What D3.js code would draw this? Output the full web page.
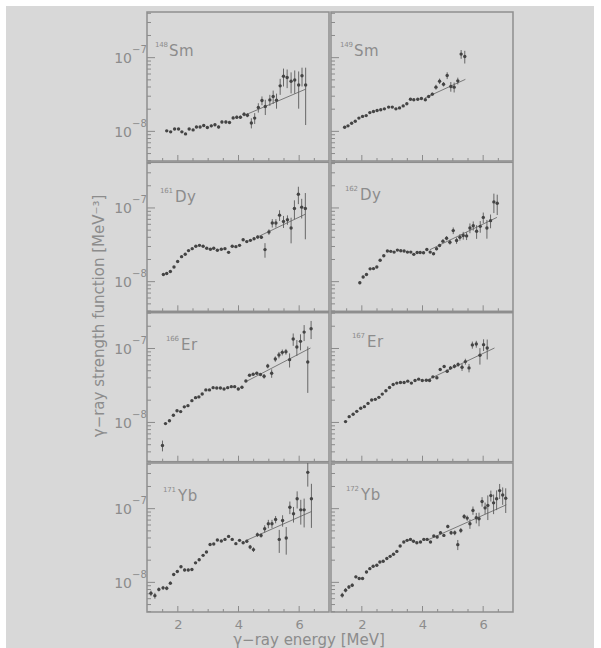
<!DOCTYPE html>
<html>
<head>
<meta charset="utf-8">
<script src="https://cdn.jsdelivr.net/npm/d3@7"></script>
<style>
  body { margin: 0; background: #fff; }
  text { font-family: "DejaVu Sans", sans-serif; fill: #8c8c8c; }
</style>
</head>
<body>
<div id="chart"></div>
<script>
// gamma-ray strength functions, values in units of 1e-8 MeV^-3
const UNIT = 1e-8

const sm148E = [1.65, 1.78, 1.91, 2.04, 2.15, 2.27, 2.39, 2.52, 2.63, 2.75, 2.87, 2.99, 3.12, 3.24, 3.36, 3.47, 3.60, 3.72, 3.84, 3.96, 4.08, 4.20, 4.31, 4.44, 4.55, 4.67, 4.79, 4.90, 5.05, 5.16, 5.27, 5.39, 5.50, 5.62, 5.75, 5.87, 6.00, 6.11, 6.23]
const sm148S = [1.00, 0.97, 1.06, 1.06, 0.97, 0.91, 1.06, 1.03, 1.13, 1.13, 1.18, 1.11, 1.17, 1.21, 1.13, 1.32, 1.32, 1.30, 1.50, 1.53, 1.53, 1.68, 1.63, 1.28, 1.49, 2.07, 2.58, 2.14, 2.63, 2.92, 2.60, 4.08, 5.50, 5.30, 4.72, 4.90, 4.20, 5.60, 4.20]
const sm148Err = [0.03, 0.03, 0.03, 0.03, 0.03, 0.03, 0.03, 0.03, 0.04, 0.04, 0.04, 0.04, 0.05, 0.05, 0.05, 0.06, 0.06, 0.06, 0.07, 0.08, 0.08, 0.1, 0.1, 0.2, 0.25, 0.3, 0.35, 0.5, 0.45, 0.6, 0.6, 1.0, 1.5, 1.5, 1.5, 1.7, 2.2, 1.6, 3.0]
const sm148Fit = [[4.25, 1.65], [6.23, 3.68]]

const sm149E = [1.45, 1.56, 1.68, 1.80, 1.92, 2.04, 2.16, 2.28, 2.40, 2.52, 2.64, 2.76, 2.90, 3.02, 3.14, 3.26, 3.38, 3.50, 3.62, 3.73, 3.86, 3.98, 4.11, 4.22, 4.34, 4.46, 4.58, 4.71, 4.83, 4.95, 5.06, 5.18, 5.29, 5.41]
const sm149S = [1.12, 1.17, 1.27, 1.35, 1.49, 1.57, 1.61, 1.77, 1.83, 1.89, 1.93, 1.99, 2.10, 2.10, 1.99, 2.05, 2.18, 2.33, 2.69, 2.64, 2.69, 2.75, 2.64, 2.92, 3.15, 3.92, 4.72, 4.30, 5.64, 4.00, 3.92, 4.77, 11.0, 10.2]
const sm149Err = [0.03, 0.03, 0.03, 0.03, 0.04, 0.04, 0.04, 0.04, 0.05, 0.05, 0.05, 0.05, 0.06, 0.06, 0.06, 0.06, 0.07, 0.07, 0.08, 0.08, 0.09, 0.1, 0.1, 0.12, 0.15, 0.3, 0.4, 0.3, 0.6, 0.6, 0.6, 0.5, 1.5, 2.0]
const sm149Fit = [[4.1, 2.8], [5.43, 5.0]]

const dy161E = [1.54, 1.65, 1.77, 1.89, 2.01, 2.14, 2.26, 2.37, 2.49, 2.61, 2.73, 2.85, 2.97, 3.09, 3.20, 3.32, 3.45, 3.57, 3.69, 3.81, 3.93, 4.05, 4.17, 4.29, 4.41, 4.53, 4.65, 4.77, 4.89, 5.02, 5.13, 5.25, 5.37, 5.50, 5.63, 5.75, 5.86, 5.99, 6.10, 6.22]
const dy161S = [1.23, 1.27, 1.35, 1.56, 1.85, 2.15, 2.32, 2.60, 2.76, 2.97, 3.06, 2.97, 2.79, 2.71, 2.79, 2.63, 2.71, 2.76, 2.46, 2.97, 2.94, 3.06, 3.65, 3.44, 3.58, 3.77, 3.97, 3.94, 2.68, 4.65, 6.14, 6.14, 7.87, 6.47, 6.81, 5.26, 9.7, 15.1, 10.1, 9.7]
const dy161Err = [0.03, 0.03, 0.03, 0.04, 0.04, 0.05, 0.05, 0.05, 0.05, 0.06, 0.06, 0.06, 0.06, 0.06, 0.06, 0.06, 0.06, 0.07, 0.07, 0.08, 0.08, 0.1, 0.12, 0.12, 0.15, 0.15, 0.2, 0.2, 0.6, 0.4, 0.8, 0.8, 1.3, 1.2, 1.0, 2.0, 2.8, 4.0, 3.0, 6.0]
const dy161Fit = [[4.6, 3.9], [6.22, 8.1]]

const dy162E = [1.95, 2.06, 2.17, 2.29, 2.40, 2.51, 2.62, 2.74, 2.86, 2.97, 3.08, 3.19, 3.30, 3.41, 3.52, 3.63, 3.73, 3.84, 3.94, 4.05, 4.16, 4.27, 4.38, 4.48, 4.58, 4.69, 4.81, 4.92, 5.03, 5.14, 5.25, 5.36, 5.47, 5.58, 5.69, 5.80, 5.92, 6.02, 6.14, 6.26, 6.37, 6.48]
const dy162S = [0.95, 1.14, 1.23, 1.47, 1.48, 1.56, 1.92, 2.21, 2.56, 2.54, 2.48, 2.64, 2.59, 2.56, 2.48, 2.48, 2.31, 2.45, 2.45, 2.43, 2.69, 2.48, 2.36, 2.75, 3.05, 3.49, 3.83, 3.38, 4.85, 3.56, 3.95, 4.16, 4.11, 5.27, 5.66, 4.75, 5.54, 7.33, 5.27, 6.62, 11.9, 11.4]
const dy162Err = [0.04, 0.04, 0.04, 0.05, 0.05, 0.05, 0.05, 0.05, 0.06, 0.06, 0.06, 0.06, 0.06, 0.06, 0.06, 0.06, 0.06, 0.07, 0.07, 0.07, 0.08, 0.08, 0.1, 0.12, 0.15, 0.2, 0.25, 0.25, 0.5, 0.35, 0.4, 0.5, 0.5, 0.8, 0.8, 1.0, 1.0, 1.2, 1.5, 1.4, 3.5, 3.5]
const dy162Fit = [[4.26, 2.67], [6.47, 7.33]]

const er166E = [1.51, 1.61, 1.74, 1.87, 1.99, 2.11, 2.23, 2.35, 2.48, 2.60, 2.71, 2.82, 2.94, 3.06, 3.18, 3.30, 3.42, 3.54, 3.66, 3.78, 3.89, 4.01, 4.13, 4.26, 4.38, 4.50, 4.62, 4.74, 4.86, 4.98, 5.11, 5.23, 5.35, 5.46, 5.58, 5.70, 5.82, 5.94, 6.06, 6.18, 6.30, 6.41]
const er166S = [0.48, 0.95, 1.04, 1.23, 1.42, 1.38, 1.60, 1.66, 1.94, 2.13, 2.18, 2.39, 2.71, 2.71, 2.91, 2.88, 2.88, 2.79, 2.91, 3.00, 3.00, 2.79, 2.94, 3.58, 4.27, 4.41, 4.55, 4.37, 4.14, 5.71, 4.55, 7.10, 8.04, 8.73, 8.91, 6.95, 13.2, 10.3, 12.3, 16.4, 6.47, 18.2]
const er166Err = [0.08, 0.03, 0.03, 0.04, 0.04, 0.04, 0.05, 0.05, 0.05, 0.06, 0.06, 0.06, 0.06, 0.06, 0.07, 0.07, 0.07, 0.07, 0.08, 0.08, 0.08, 0.1, 0.1, 0.12, 0.15, 0.15, 0.2, 0.2, 0.3, 0.4, 0.6, 0.6, 0.8, 0.8, 0.8, 1.5, 2.5, 2.5, 3.0, 4.0, 4.0, 5.0]
const er166Fit = [[4.28, 3.54], [6.39, 10.0]]

const er167E = [1.48, 1.60, 1.73, 1.85, 1.98, 2.10, 2.22, 2.34, 2.46, 2.58, 2.69, 2.81, 2.93, 3.05, 3.17, 3.29, 3.41, 3.53, 3.65, 3.77, 3.89, 4.01, 4.14, 4.25, 4.36, 4.49, 4.60, 4.73, 4.83, 4.94, 5.07, 5.19, 5.32, 5.43, 5.55, 5.66, 5.79, 5.91, 6.03, 6.15]
const er167S = [1.01, 1.18, 1.27, 1.39, 1.53, 1.61, 1.78, 1.98, 2.02, 2.15, 2.38, 2.64, 2.92, 3.21, 3.35, 3.42, 3.42, 3.56, 3.35, 3.64, 3.79, 3.64, 3.67, 3.64, 4.07, 3.95, 5.12, 5.61, 4.85, 5.38, 5.66, 5.97, 5.49, 6.55, 5.38, 11.0, 11.3, 7.96, 11.1, 10.0]
const er167Err = [0.03, 0.03, 0.03, 0.04, 0.04, 0.04, 0.05, 0.05, 0.05, 0.05, 0.06, 0.06, 0.06, 0.07, 0.07, 0.07, 0.07, 0.08, 0.08, 0.08, 0.09, 0.09, 0.1, 0.1, 0.12, 0.15, 0.2, 0.25, 0.25, 0.3, 0.35, 0.4, 0.6, 0.6, 0.7, 1.2, 1.2, 2.0, 2.0, 3.0]
const er167Fit = [[4.16, 3.67], [6.39, 10.0]]

const yb171E = [1.13, 1.26, 1.39, 1.53, 1.65, 1.77, 1.88, 2.00, 2.12, 2.24, 2.36, 2.48, 2.60, 2.72, 2.85, 2.96, 3.08, 3.20, 3.32, 3.45, 3.57, 3.69, 3.81, 3.93, 4.05, 4.17, 4.29, 4.40, 4.51, 4.64, 4.76, 4.88, 5.00, 5.12, 5.24, 5.36, 5.47, 5.59, 5.71, 5.83, 5.95, 6.07, 6.18, 6.30, 6.42]
const yb171S = [0.70, 0.65, 0.79, 0.83, 0.82, 0.96, 1.26, 1.38, 1.60, 1.45, 1.45, 1.47, 1.81, 2.00, 2.29, 2.54, 3.22, 3.26, 3.70, 3.58, 3.77, 4.14, 3.77, 3.30, 3.66, 3.40, 3.55, 2.97, 2.74, 4.37, 4.27, 5.26, 6.14, 6.14, 7.03, 3.77, 6.81, 3.94, 10.3, 8.38, 13.4, 9.48, 9.48, 30.6, 13.4]
const yb171Err = [0.06, 0.06, 0.05, 0.05, 0.05, 0.05, 0.05, 0.05, 0.06, 0.06, 0.06, 0.06, 0.06, 0.07, 0.07, 0.07, 0.08, 0.08, 0.08, 0.08, 0.09, 0.1, 0.1, 0.1, 0.1, 0.12, 0.15, 0.2, 0.2, 0.3, 0.3, 0.6, 0.8, 0.8, 0.8, 1.3, 1.2, 1.6, 2.0, 2.0, 3.5, 3.5, 4.0, 11, 8]
const yb171Fit = [[4.28, 3.66], [6.42, 9.0]]

const yb172E = [1.37, 1.48, 1.59, 1.70, 1.82, 1.93, 2.04, 2.17, 2.28, 2.39, 2.51, 2.61, 2.72, 2.84, 2.95, 3.06, 3.17, 3.28, 3.40, 3.51, 3.62, 3.72, 3.83, 3.95, 4.06, 4.17, 4.28, 4.39, 4.50, 4.61, 4.72, 4.85, 4.96, 5.08, 5.18, 5.28, 5.39, 5.49, 5.58, 5.68, 5.79, 5.88, 5.98, 6.08, 6.17, 6.27, 6.36, 6.46, 6.56, 6.66, 6.76]
const yb172S = [0.66, 0.77, 0.85, 0.90, 1.17, 1.11, 1.11, 1.36, 1.51, 1.63, 1.68, 1.86, 1.90, 2.07, 2.22, 2.37, 2.59, 3.06, 3.47, 3.66, 3.77, 3.55, 3.40, 3.47, 3.77, 3.77, 3.47, 4.19, 4.06, 4.64, 4.27, 5.65, 4.64, 4.64, 3.20, 4.99, 7.71, 7.33, 6.14, 9.33, 7.41, 7.18, 12.3, 10.1, 10.9, 14.8, 11.8, 13.4, 17.3, 15.1, 13.6]
const yb172Err = [0.05, 0.05, 0.05, 0.05, 0.05, 0.05, 0.05, 0.05, 0.06, 0.06, 0.06, 0.06, 0.06, 0.07, 0.07, 0.07, 0.07, 0.08, 0.08, 0.08, 0.08, 0.08, 0.08, 0.09, 0.09, 0.1, 0.1, 0.12, 0.15, 0.2, 0.2, 0.3, 0.3, 0.35, 0.5, 0.4, 0.6, 0.6, 0.9, 1.2, 1.2, 1.5, 1.8, 1.8, 4.0, 2.5, 3.5, 4.0, 4.0, 4.0, 5.0]
const yb172Fit = [[4.16, 3.66], [6.78, 11.1]]

const massNumbers = ['148', '149', '161', '162', '166', '167', '171', '172']
const elements = ['Sm', 'Sm', 'Dy', 'Dy', 'Er', 'Er', 'Yb', 'Yb']
const xTickLabels = [2, 4, 6]
const yDecades = [-8, -7]

// layout
const dimensions = {
  width: 601,
  height: 648,
  colX: [147, 331],
  rowY: [12, 162.3, 312.7, 463],
  panelW: 182,
  panelH: 149
}
// the Er row is drawn on a slightly lower range than the others
const yRanges = [[3.9e-9, 4.1e-7], [3.9e-9, 4.1e-7], [2.9e-9, 3.0e-7], [3.9e-9, 4.1e-7]]
// label offsets from the panel corner (mass number x, symbol x, baseline y)
const labelPos = [[8, 22, 44], [9, 23, 44], [13, 28, 40], [14, 29, 38], [19, 34, 37], [21, 36, 34], [16, 31, 38], [15, 30, 37]]

const series = [
  [sm148E, sm148S, sm148Err, sm148Fit],
  [sm149E, sm149S, sm149Err, sm149Fit],
  [dy161E, dy161S, dy161Err, dy161Fit],
  [dy162E, dy162S, dy162Err, dy162Fit],
  [er166E, er166S, er166Err, er166Fit],
  [er167E, er167S, er167Err, er167Fit],
  [yb171E, yb171S, yb171Err, yb171Fit],
  [yb172E, yb172S, yb172Err, yb172Fit]
]

const svg = d3.select('#chart').append('svg')
  .attr('width', dimensions.width)
  .attr('height', dimensions.height)

// scanned paper
svg.append('rect').attr('width', dimensions.width).attr('height', dimensions.height).attr('fill', '#fff')
svg.append('rect')
  .attr('x', 6).attr('y', 6)
  .attr('width', 588).attr('height', dimensions.height - 6)
  .attr('fill', '#d8d8d8')

const defs = svg.append('defs')

series.forEach(([E, S, Err, fit], i) => {
  const row = Math.floor(i / 2)
  const col = i % 2
  const x0 = dimensions.colX[col]
  const y0 = dimensions.rowY[row]

  const x = d3.scaleLinear().domain([1, 7]).range([x0, x0 + dimensions.panelW])
  const y = d3.scaleLog().domain(yRanges[row]).range([y0 + dimensions.panelH, y0])

  const g = svg.append('g').attr('class', 'panel')

  defs.append('clipPath').attr('id', 'clip' + i)
    .append('rect')
    .attr('x', x0).attr('y', y0)
    .attr('width', dimensions.panelW).attr('height', dimensions.panelH)

  // ticks on the left edge, pointing inward
  const yMinor = y.ticks().filter(v => Math.abs(Math.log10(v) - Math.round(Math.log10(v))) > 1e-6)
  const yMajor = yDecades.map(p => Math.pow(10, p))
  g.append('g')
    .attr('transform', `translate(${x0},0)`)
    .call(d3.axisRight(y).tickValues(yMinor).tickSize(4).tickFormat(''))
    .call(a => a.select('.domain').remove())
  g.append('g')
    .attr('transform', `translate(${x0},0)`)
    .call(d3.axisRight(y).tickValues(yMajor).tickSize(8).tickFormat(''))
    .call(a => a.select('.domain').remove())

  // ticks on the bottom edge, pointing up
  const xMinor = d3.range(1.5, 7, 0.5).filter(v => !xTickLabels.includes(v))
  g.append('g')
    .attr('transform', `translate(0,${y0 + dimensions.panelH})`)
    .call(d3.axisTop(x).tickValues(xMinor).tickSize(3).tickFormat(''))
    .call(a => a.select('.domain').remove())
  g.append('g')
    .attr('transform', `translate(0,${y0 + dimensions.panelH})`)
    .call(d3.axisTop(x).tickValues(xTickLabels).tickSize(6).tickFormat(''))
    .call(a => a.select('.domain').remove())
  g.selectAll('.tick line').attr('stroke', '#8a8a8a').attr('stroke-width', 1)

  // frame
  g.append('rect')
    .attr('x', x0).attr('y', y0)
    .attr('width', dimensions.panelW).attr('height', dimensions.panelH)
    .attr('fill', 'none')
    .attr('stroke', '#8e8e8e')
    .attr('stroke-width', 1.5)

  const pts = E.map((e, k) => ({ e, s: S[k] * UNIT, err: Err[k] * UNIT }))
  const plot = g.append('g').attr('clip-path', `url(#clip${i})`)

  // fit line
  plot.append('path')
    .datum(fit)
    .attr('d', d3.line().x(d => x(d[0])).y(d => y(d[1] * UNIT)))
    .attr('fill', 'none')
    .attr('stroke', '#6e6e6e')
    .attr('stroke-width', 0.9)

  // error bars
  plot.selectAll('line.err')
    .data(pts)
    .join('line')
    .attr('class', 'err')
    .attr('x1', d => x(d.e)).attr('x2', d => x(d.e))
    .attr('y1', d => y(Math.max(d.s - d.err, yRanges[row][0] * 0.5)))
    .attr('y2', d => y(d.s + d.err))
    .attr('stroke', '#5a5a5a')
    .attr('stroke-width', 0.9)

  plot.selectAll('circle')
    .data(pts)
    .join('circle')
    .attr('cx', d => x(d.e))
    .attr('cy', d => y(d.s))
    .attr('r', 1.7)
    .attr('fill', '#444')

  // nucleus label
  const lp = labelPos[i]
  g.append('text')
    .attr('x', x0 + lp[0]).attr('y', y0 + lp[2] - 9)
    .attr('font-size', 7)
    .attr('letter-spacing', -0.2)
    .text(massNumbers[i])
  g.append('text')
    .attr('x', x0 + lp[1]).attr('y', y0 + lp[2])
    .attr('font-size', 15)
    .attr('letter-spacing', 0.5)
    .text(elements[i])

  // decade labels on the left column only
  if (col === 0) {
    yDecades.forEach(p => {
      const yy = y(Math.pow(10, p))
      g.append('text')
        .attr('x', x0 - 15).attr('y', yy + 6)
        .attr('text-anchor', 'end')
        .attr('font-size', 14)
        .text('10')
      g.append('text')
        .attr('x', x0 - 15).attr('y', yy - 4)
        .attr('font-size', 10)
        .text('\u2212' + Math.abs(p))
    })
  }

  // energy labels under the last row
  if (row === 3) {
    xTickLabels.forEach(v => {
      g.append('text')
        .attr('x', x(v) + 1).attr('y', y0 + dimensions.panelH + 17)
        .attr('text-anchor', 'middle')
        .attr('font-size', 13)
        .text(v)
    })
  }
})

// axis titles
svg.append('text')
  .attr('transform', 'translate(104,316) rotate(-90)')
  .attr('text-anchor', 'middle')
  .attr('font-size', 15)
  .text('\u03b3\u2212ray strength function [MeV\u207b\u00b3]')

svg.append('text')
  .attr('x', 309).attr('y', 645)
  .attr('text-anchor', 'middle')
  .attr('font-size', 15)
  .text('\u03b3\u2212ray energy [MeV]')
</script>
</body>
</html>
